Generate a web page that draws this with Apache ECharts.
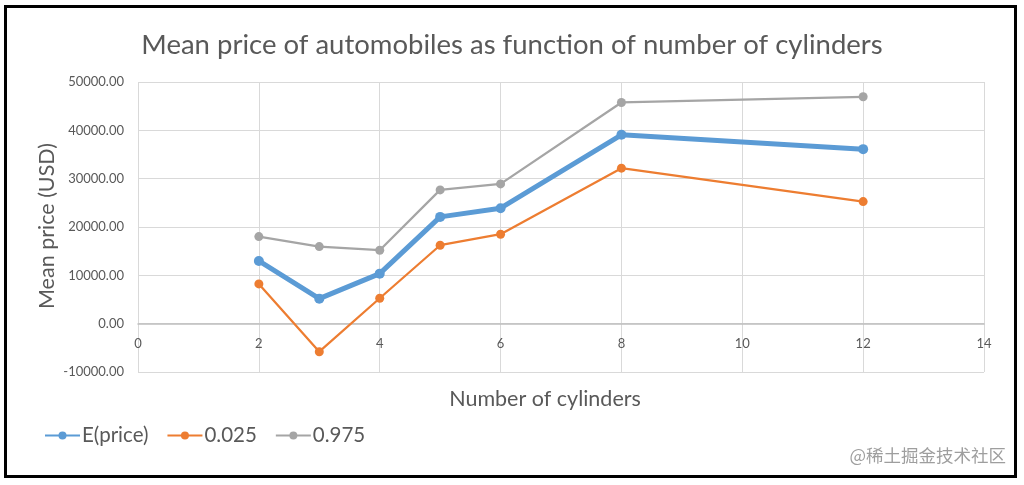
<!DOCTYPE html>
<html>
<head>
<meta charset="utf-8">
<script src="https://cdn.jsdelivr.net/npm/echarts@6/dist/echarts.min.js"></script>
<style>
html,body{margin:0;padding:0;background:#fff;}
#main{width:1024px;height:485px;}
</style>
</head>
<body>
<div id="main"></div>
<script>
const cylinders = [2, 3, 4, 5, 6, 8, 12];
const meanPrice = [12980, 5180, 10350, 22090, 23890, 39070, 36110];
const lower025 = [8220, -5800, 5260, 16230, 18510, 32170, 25260];
const upper975 = [18010, 15940, 15200, 27680, 28920, 45760, 46940];
const seriesNames = ['E(price)', '0.025', '0.975'];
const titleText = 'Mean price of automobiles as function of number of cylinders';
const xAxisName = 'Number of cylinders';
const yAxisName = 'Mean price (USD)';
const watermark = '@稀土掘金技术社区';

const pairs = arr => cylinders.map((c, i) => [c, arr[i]]);
const FONT = 'Lato';
const TXT = '#595959';

const chart = echarts.init(document.getElementById('main'));
chart.setOption({
  animation: false,
  backgroundColor: '#fff',
  title: {
    text: titleText,
    left: 'center',
    top: 26,
    textStyle: {color: TXT, fontFamily: FONT, fontSize: 27.5, fontWeight: 'normal'}
  },
  legend: {
    left: 39,
    top: 420,
    itemWidth: 35,
    itemHeight: 10,
    itemGap: 18,
    textStyle: {color: TXT, fontFamily: FONT, fontSize: 20.5, padding: [0, 0, 0, -3]},
    data: seriesNames
  },
  grid: {left: 138, right: 40, top: 82, bottom: 113},
  xAxis: {
    type: 'value',
    min: 0, max: 14, interval: 2,
    axisLine: {show: true, onZero: true, lineStyle: {color: '#bfbfbf', width: 1.5}},
    axisTick: {show: false},
    axisLabel: {color: TXT, fontFamily: FONT, fontSize: 13, margin: -35},
    splitLine: {show: true, lineStyle: {color: '#d9d9d9', width: 1}}
  },
  yAxis: {
    type: 'value',
    min: -10000, max: 50000, interval: 10000,
    axisLine: {show: false},
    axisTick: {show: false},
    axisLabel: {color: TXT, fontFamily: FONT, fontSize: 13, margin: 14,
      formatter: v => v.toFixed(2)},
    splitLine: {show: true, lineStyle: {color: '#d9d9d9', width: 1}}
  },
  series: [
    {name: seriesNames[0], type: 'line', data: pairs(meanPrice), z: 5,
     symbol: 'circle', symbolSize: 10,
     itemStyle: {color: '#5B9BD5'}, lineStyle: {color: '#5B9BD5', width: 5}},
    {name: seriesNames[1], type: 'line', data: pairs(lower025), z: 4,
     symbol: 'circle', symbolSize: 9,
     itemStyle: {color: '#ED7D31'}, lineStyle: {color: '#ED7D31', width: 2.25}},
    {name: seriesNames[2], type: 'line', data: pairs(upper975), z: 3,
     symbol: 'circle', symbolSize: 9,
     itemStyle: {color: '#A5A5A5'}, lineStyle: {color: '#A5A5A5', width: 2.25}}
  ],
  graphic: [
    {type: 'text', x: 545, y: 399,
     style: {text: xAxisName, fill: TXT, font: '21.5px Lato', align: 'center', verticalAlign: 'middle'}},
    {type: 'text', x: 47, y: 226, rotation: Math.PI / 2,
     style: {text: yAxisName, fill: TXT, font: '21.5px Lato', align: 'center', verticalAlign: 'middle'}},
    {type: 'rect', shape: {x: 5.5, y: 6.5, width: 1010, height: 470},
     style: {fill: 'none', stroke: '#000', lineWidth: 3}, z: 100},
    {type: 'text', right: 18, top: 447,
     style: {text: watermark, fill: '#9e9e9e', font: '17.5px "Noto Sans CJK SC"'}, z: 100}
  ]
});
</script>
</body>
</html>
